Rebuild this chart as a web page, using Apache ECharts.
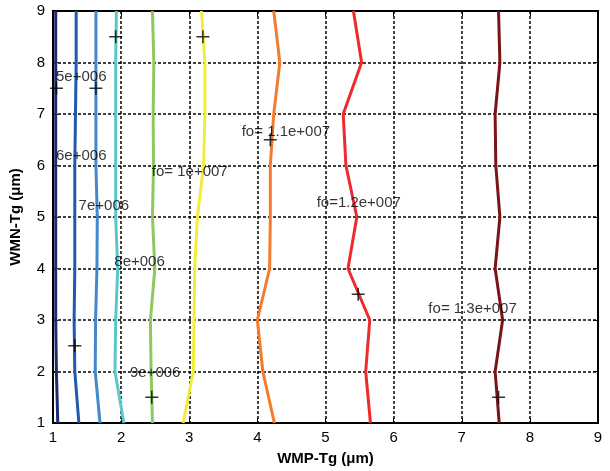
<!DOCTYPE html>
<html>
<head>
<meta charset="utf-8">
<script src="https://cdn.jsdelivr.net/npm/echarts@6/dist/echarts.min.js"></script>
<style>html,body{margin:0;padding:0;background:#fff}#c{width:610px;height:471px}</style>
</head>
<body>
<div id="c"></div>
<script>
// Contour levels and their x positions at y = 1..9
var yLevels = [1, 2, 3, 4, 5, 6, 7, 8, 9];
var levelNames = ['5e+006', '6e+006', '7e+006', '8e+006', '9e+006', 'fo= 1e+007', 'fo= 1.1e+007', 'fo=1.2e+007', 'fo= 1.3e+007'];
var c5e6  = [1.07, 1.05, 1.04, 1.04, 1.04, 1.04, 1.04, 1.04, 1.04];
var c6e6  = [1.38, 1.32, 1.31, 1.32, 1.32, 1.32, 1.33, 1.34, 1.34];
var c7e6  = [1.69, 1.62, 1.625, 1.645, 1.65, 1.63, 1.63, 1.63, 1.63];
var c8e6  = [2.04, 1.91, 1.92, 1.95, 1.92, 1.92, 1.92, 1.92, 1.93];
var c9e6  = [2.46, 2.44, 2.43, 2.495, 2.46, 2.475, 2.47, 2.48, 2.46];
var c1e7  = [2.91, 3.06, 3.07, 3.08, 3.12, 3.21, 3.23, 3.23, 3.18];
var c11e7 = [4.25, 4.08, 4.00, 4.18, 4.19, 4.19, 4.24, 4.33, 4.24];
var c12e7 = [5.66, 5.59, 5.65, 5.33, 5.46, 5.30, 5.26, 5.53, 5.41];
var c13e7 = [7.55, 7.49, 7.60, 7.49, 7.56, 7.50, 7.49, 7.56, 7.54];
var contourX = [c5e6, c6e6, c7e6, c8e6, c9e6, c1e7, c11e7, c12e7, c13e7];
var colors = ['#1c2a6e', '#1f5aaa', '#4288cc', '#5bc8c8', '#8dc860', '#f2ec3a', '#f47a2c', '#ee2a2a', '#7a1416'];

// Label anchors (data coords, left edge / middle)
var labelX = [1.044, 1.044, 1.376, 1.90, 2.13, 2.45, 3.77, 4.87, 6.51];
var labelY = [7.72, 6.19, 5.21, 4.12, 1.975, 5.87, 6.65, 5.27, 3.21];

// '+' markers
var plusX = [1.05, 1.63, 1.92, 3.20, 1.32, 2.45, 4.19, 5.48, 7.54];
var plusY = [7.5, 7.5, 8.5, 8.5, 2.5, 1.5, 6.5, 3.5, 1.5];

var xTicks = [1, 2, 3, 4, 5, 6, 7, 8, 9];
var yTicks = [1, 2, 3, 4, 5, 6, 7, 8, 9];

var chart = echarts.init(document.getElementById('c'), null, {renderer: 'canvas'});
var font = 'Arial, "Liberation Sans", sans-serif';

var series = [];
contourX.forEach(function (xs, i) {
  series.push({
    type: 'line',
    name: levelNames[i],
    data: xs.map(function (x, k) { return [x, yLevels[k]]; }),
    symbol: 'none',
    lineStyle: {color: colors[i], width: 3},
    z: 3,
    silent: true,
    animation: false
  });
});
series.push({
  type: 'scatter',
  data: plusX.map(function (x, i) { return [x, plusY[i]]; }),
  symbol: 'path://M0,4.4H10V5.6H0Z M4.4,0H5.6V10H4.4Z',
  symbolSize: 13,
  itemStyle: {color: '#000'},
  z: 5,
  silent: true,
  animation: false
});
series.push({
  type: 'scatter',
  data: labelX.map(function (x, i) { return {value: [x, labelY[i]], label: {formatter: levelNames[i]}}; }),
  symbolSize: 0,
  label: {show: true, position: 'right', distance: 0, color: '#000', fontSize: 15, fontFamily: font, align: 'left', verticalAlign: 'middle'},
  z: 6,
  silent: true,
  animation: false
});

var gridLine = {show: true, lineStyle: {color: '#000', type: [3, 2], width: 1.5}};

chart.setOption({
  backgroundColor: '#fff',
  animation: false,
  grid: {left: 52, right: 12, top: 11, bottom: 45, show: true, borderColor: '#000', borderWidth: 2, backgroundColor: 'transparent'},
  xAxis: [{
    type: 'value', min: 1, max: 9, interval: 1, position: 'bottom',
    name: 'WMP-Tg (μm)', nameLocation: 'middle', nameGap: 28,
    nameTextStyle: {fontSize: 15, fontWeight: 'bold', fontFamily: font, color: '#000'},
    axisLine: {show: true, lineStyle: {color: '#000', width: 2}},
    axisTick: {show: true, inside: true, length: 5, lineStyle: {color: '#000'}},
    axisLabel: {fontSize: 15, color: '#000', fontFamily: font, margin: 7,
      formatter: function (v) { return xTicks.indexOf(v) >= 0 ? String(v) : ''; }},
    splitLine: gridLine
  }, {
    type: 'value', min: 1, max: 9, interval: 1, position: 'top',
    axisLine: {show: true, lineStyle: {color: '#000', width: 2}},
    axisTick: {show: true, inside: true, length: 5, lineStyle: {color: '#000'}},
    axisLabel: {show: false}, splitLine: {show: false}
  }],
  yAxis: [{
    type: 'value', min: 1, max: 9, interval: 1, position: 'left',
    name: 'WMN-Tg (μm)', nameLocation: 'middle', nameGap: 30,
    nameTextStyle: {fontSize: 15, fontWeight: 'bold', fontFamily: font, color: '#000'},
    axisLine: {show: true, lineStyle: {color: '#000', width: 2}},
    axisTick: {show: true, inside: true, length: 5, lineStyle: {color: '#000'}},
    axisLabel: {fontSize: 15, color: '#000', fontFamily: font, margin: 8,
      formatter: function (v) { return yTicks.indexOf(v) >= 0 ? String(v) : ''; }},
    splitLine: gridLine
  }, {
    type: 'value', min: 1, max: 9, interval: 1, position: 'right',
    axisLine: {show: true, lineStyle: {color: '#000', width: 2}},
    axisTick: {show: true, inside: true, length: 5, lineStyle: {color: '#000'}},
    axisLabel: {show: false}, splitLine: {show: false}
  }],
  series: series
});
</script>
</body>
</html>
